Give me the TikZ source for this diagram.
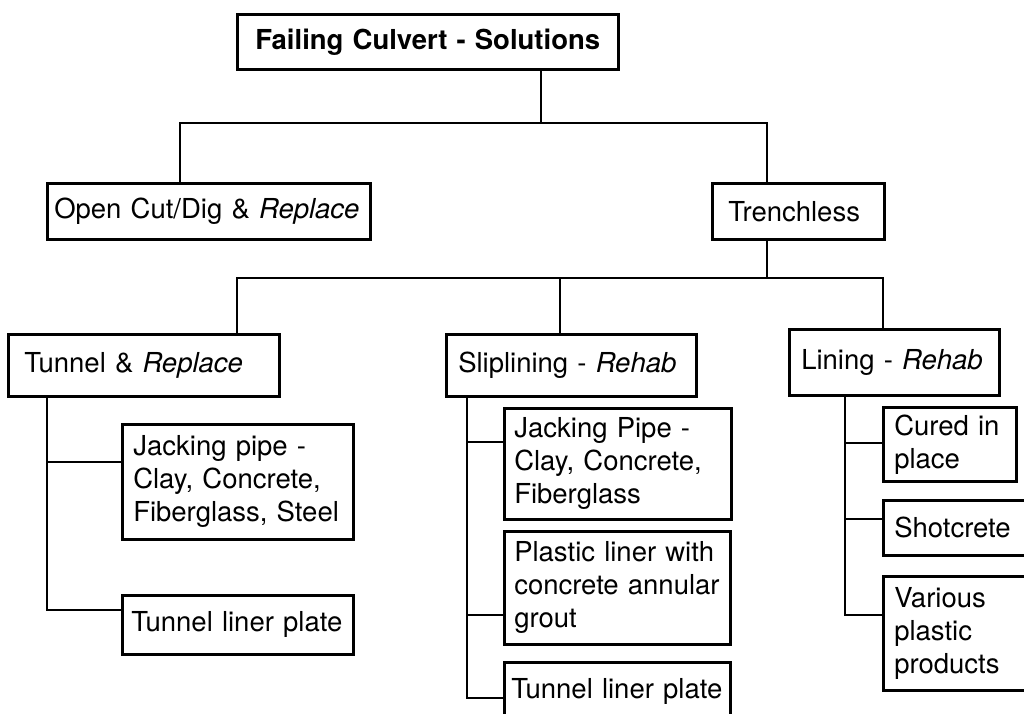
\documentclass[tikz,border=0pt]{standalone}
\usepackage{fontspec}
\setmainfont{TeX Gyre Heros}
\tikzset{
    Box/.style = {draw, line width=2.5pt, anchor=north west, align=left,
                  inner ysep=0pt, inner xsep=11pt,
                  font=\fontsize{27.5}{33}\selectfont},
    Link/.style = {line width=2.2pt}
}

\begin{document}
\begin{tikzpicture}[x=1pt,y=-1pt]
        \useasboundingbox (0,0) rectangle (1024,713);
        \clip (0,0) rectangle (1024,713);
        \fill[white] (0,0) rectangle (1024,713);
        \node[Box,align=center,text width=359pt,minimum height=55pt] (top) at (236,13) {\textbf{Failing Culvert - Solutions}};
        \node[Box,inner xsep=7pt,text width=309pt,minimum height=56pt] (opencut) at (46,182) {Open Cut/Dig \& \textit{Replace}};
        \node[Box,inner xsep=16pt,text width=140pt,minimum height=56pt] (trench) at (711,182) {Trenchless};
        \node[Box,inner xsep=16pt,text width=239pt,minimum height=62pt] (tunnel) at (7,333) {Tunnel \& \textit{Replace}};
        \node[Box,inner xsep=12pt,text width=226pt,minimum height=62pt] (slip) at (445,333) {Sliplining - \textit{Rehab}};
        \node[Box,inner xsep=12pt,text width=186pt,minimum height=66pt] (lining) at (788,328) {Lining - \textit{Rehab}};
        \node[Box,text width=209pt,minimum height=115pt] (tjack) at (121,423) {Jacking pipe -\\Clay, Concrete,\\Fiberglass, Steel};
        \node[Box,inner xsep=9pt,text width=213pt,minimum height=59pt] (tliner) at (121,594) {Tunnel liner plate};
        \node[Box,inner xsep=10pt,text width=207pt,minimum height=111pt] (sjack) at (503,407) {Jacking Pipe -\\Clay, Concrete,\\Fiberglass};
        \node[Box,inner xsep=10pt,text width=206pt,minimum height=113pt] (splastic) at (503,530) {Plastic liner with\\concrete annular\\grout};
        \node[Box,inner xsep=7pt,text width=212pt,minimum height=59pt] (sliner) at (503,661) {Tunnel liner plate};
        \node[Box,text width=111pt,minimum height=74pt] (cured) at (882,406) {Cured in\\place};
        \node[Box,text width=128pt,minimum height=55pt] (shot) at (882,499) {Shotcrete};
        \node[Box,text width=128pt,minimum height=114pt] (various) at (882,575) {Various\\plastic\\products};
        \coordinate (hub) at (541,123);
        \coordinate (hubtwo) at (767,278);
        \draw[Link] (top.south -| hub) -- (hub);
        \draw[Link] (opencut.north -| 180,0) |- (hub) -| (trench.north -| hubtwo);
        \draw[Link] (trench.south -| hubtwo) -- (hubtwo);
        \draw[Link] (tunnel.north -| 237,0) |- (hubtwo) -| (lining.north -| 883,0);
        \draw[Link] (slip.north -| 560,0) |- (hubtwo);
        \foreach \n/\yb in {tjack/462,tliner/610}
            {\draw[Link] (tunnel.south -| 47,0) |- (\n.west |- 0,\yb);}
        \foreach \n/\yb in {sjack/442,splastic/615,sliner/698}
            {\draw[Link] (slip.south -| 467,0) |- (\n.west |- 0,\yb);}
        \foreach \n/\yb in {cured/443,shot/519,various/615}
            {\draw[Link] (lining.south -| 845,0) |- (\n.west |- 0,\yb);}
        \end{tikzpicture}
\end{document}
